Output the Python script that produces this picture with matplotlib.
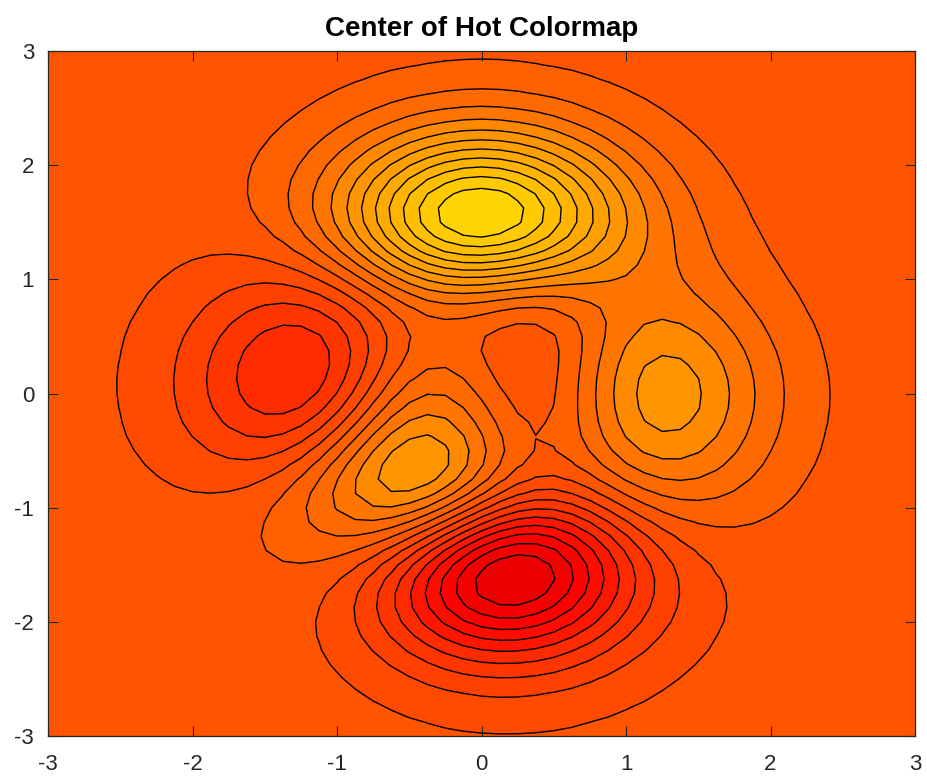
import numpy as np
import matplotlib
matplotlib.use("Agg")
import matplotlib.pyplot as plt
from matplotlib.colors import Normalize

# peaks surface on the default 49x49 grid
grid_n = 49
x_range = [-3, 3]
y_range = [-3, 3]
n_levels = 20
color_limits = [-20, 20]
ticks = [-3, -2, -1, 0, 1, 2, 3]
title = "Center of Hot Colormap"


def peaks(x, y):
    return (3 * (1 - x) ** 2 * np.exp(-x ** 2 - (y + 1) ** 2)
            - 10 * (x / 5 - x ** 3 - y ** 5) * np.exp(-x ** 2 - y ** 2)
            - 1 / 3 * np.exp(-(x + 1) ** 2 - y ** 2))


x = np.linspace(x_range[0], x_range[1], grid_n)
y = np.linspace(y_range[0], y_range[1], grid_n)
X, Y = np.meshgrid(x, y)
Z = peaks(X, Y)

zmin, zmax = Z.min(), Z.max()
levels = np.linspace(zmin, zmax, n_levels + 2)[1:-1]

# each band takes the colour of its lower level, like matlab's contourf
cmap = plt.get_cmap("hot", 64)
norm = Normalize(color_limits[0], color_limits[1])
bounds = np.concatenate([[zmin - 1e-9], levels, [zmax + 1e-9]])
fill_colors = [cmap(norm(b)) for b in [zmin] + list(levels)]

plt.rcParams["font.family"] = ["Liberation Sans", "DejaVu Sans"]
plt.rcParams["axes.unicode_minus"] = False

fig = plt.figure(figsize=(9.27, 7.82), dpi=100)
ax = fig.add_axes([0.0518, 0.0588, 0.9353, 0.876])
ax.contourf(X, Y, Z, levels=bounds, colors=fill_colors)
ax.contour(X, Y, Z, levels=levels, colors="black", linewidths=1.0,
           linestyles="solid")

ax.set_xlim(x_range)
ax.set_ylim(y_range)
ax.set_xticks(ticks)
ax.set_yticks(ticks)
ax.tick_params(direction="in", length=7, width=0.8, top=True, right=True,
               labelsize=16, colors="#262626")
ax.tick_params(axis="x", pad=13)
ax.tick_params(axis="y", pad=10)
for s in ax.spines.values():
    s.set_linewidth(0.9)
    s.set_color("#262626")
ax.set_title(title, fontsize=20, fontweight="bold", pad=11)

fig.savefig("out.png", dpi=100)
